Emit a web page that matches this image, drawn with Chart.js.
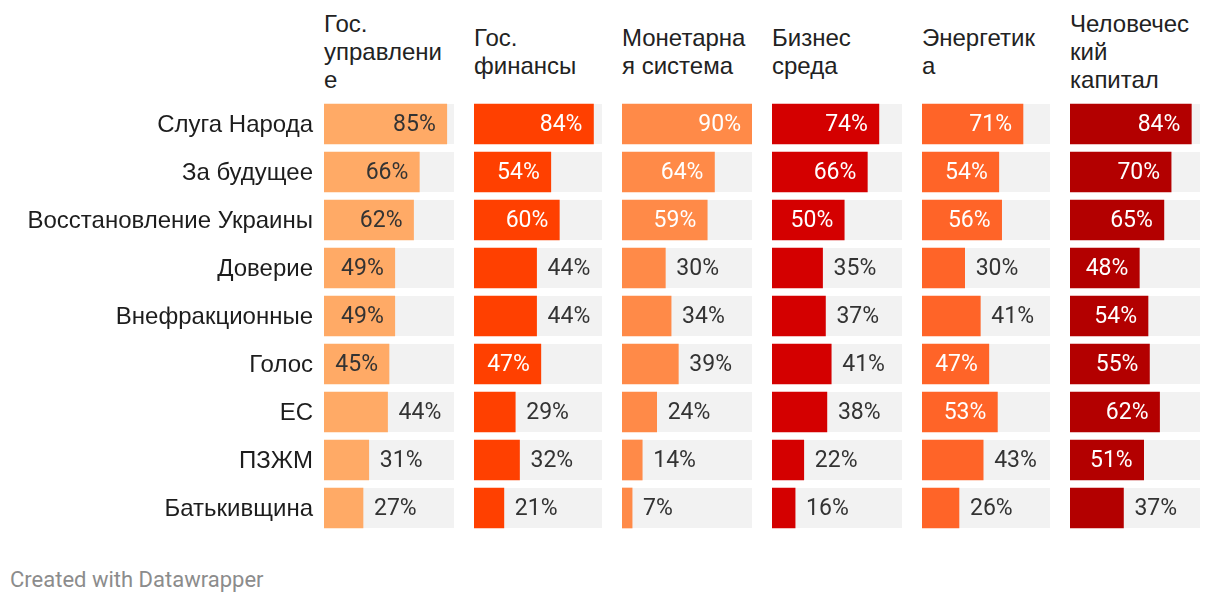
<!DOCTYPE html>
<html>
<head>
<meta charset="utf-8">
<script src="https://cdn.jsdelivr.net/npm/chart.js@4.4.1/dist/chart.umd.min.js"></script>
<style>
  html, body { margin: 0; padding: 0; background: #fff; }
  #wrap { position: relative; width: 1220px; height: 604px; overflow: hidden; }
  .panel { position: absolute; top: 100px; height: 432px; }
  .head {
    position: absolute; top: 0; height: 104px;
    display: flex; align-items: center;
    font-family: "Liberation Sans", Arial, sans-serif; font-size: 24px; line-height: 28px;
    color: #222;
  }
  #foot {
    position: absolute; left: 10px; top: 567px;
    font-family: Roboto, sans-serif; font-size: 22px; color: #8c8c8c;
  }
</style>
</head>
<body>
<div id="wrap">
  <div id="foot">Created with Datawrapper</div>
</div>
<script>
// parties (rows)
const parties = ["Слуга Народа", "За будущее", "Восстановление Украины", "Доверие", "Внефракционные", "Голос", "ЕС", "ПЗЖМ", "Батькивщина"];

// column headers, wrapped like the original
const headers = [
  ["Гос.", "управлени", "е"],
  ["Гос.", "финансы"],
  ["Монетарна", "я система"],
  ["Бизнес", "среда"],
  ["Энергетик", "а"],
  ["Человечес", "кий", "капитал"]
];

// values per column, in % (same order as parties)
const govAdmin   = [85, 66, 62, 49, 49, 45, 44, 31, 27];
const govFinance = [84, 54, 60, 44, 44, 47, 29, 32, 21];
const monetary   = [90, 64, 59, 30, 34, 39, 24, 14, 7];
const business   = [74, 66, 50, 35, 37, 41, 38, 22, 16];
const energy     = [71, 54, 56, 30, 41, 47, 53, 43, 26];
const humanCap   = [84, 70, 65, 48, 54, 55, 62, 51, 37];

const series = [govAdmin, govFinance, monetary, business, energy, humanCap];
const colors = ["#FFAA66", "#FF4000", "#FF8A48", "#D40000", "#FF6428", "#B30000"];
const insideText = ["#333333", "#ffffff", "#ffffff", "#ffffff", "#ffffff", "#ffffff"];

// panel layout
const panelX = [324, 474, 622, 772, 922, 1070];
const panelW = [130, 128, 130, 130, 128, 130];
const LABEL_W = 324;
const INSIDE_MIN = 45;
const TRACK = "#F2F2F2";

const scaleMax = Math.max(...series.flat());

const trackPlugin = {
  id: "track",
  beforeDatasetsDraw(chart) {
    const { ctx, chartArea } = chart;
    const meta = chart.getDatasetMeta(0);
    ctx.save();
    ctx.fillStyle = TRACK;
    meta.data.forEach((el) => {
      ctx.fillRect(chartArea.left, el.y - el.height / 2, chartArea.right - chartArea.left, el.height);
    });
    ctx.restore();
  }
};

const valuePlugin = {
  id: "values",
  afterDatasetsDraw(chart) {
    const { ctx, chartArea } = chart;
    const meta = chart.getDatasetMeta(0);
    const ds = chart.data.datasets[0];
    const opts = chart.options.plugins.values;
    const idx = opts.panel;
    ctx.save();
    ctx.textBaseline = "middle";
    meta.data.forEach((el, i) => {
      const v = ds.data[i];
      const txt = v + "%";
      ctx.font = "23px Roboto, sans-serif";
      if (v >= INSIDE_MIN) {
        ctx.textAlign = "right";
        ctx.fillStyle = insideText[idx];
        ctx.fillText(txt, el.x - 11, el.y + 1);
      } else {
        ctx.textAlign = "left";
        ctx.fillStyle = "#333333";
        ctx.fillText(txt, el.x + 11, el.y + 1);
      }
      // row labels on the first panel only
      if (opts.rowLabels) {
        ctx.font = "24px 'Liberation Sans', Arial, sans-serif";
        ctx.textAlign = "right";
        ctx.fillStyle = "#1d1d1d";
        ctx.fillText(chart.data.labels[i], chartArea.left - 11, chart.scales.y.getPixelForValue(i) + 1);
      }
    });
    ctx.restore();
  }
};

const wrap = document.getElementById("wrap");

series.forEach((vals, p) => {
  const first = p === 0;
  const left = first ? 0 : panelX[p];
  const width = first ? panelX[p] + panelW[p] : panelW[p];

  const head = document.createElement("div");
  head.className = "head";
  head.style.left = panelX[p] + "px";
  head.style.width = (panelW[p] + 16) + "px";
  head.innerHTML = "<div>" + headers[p].join("<br>") + "</div>";
  wrap.appendChild(head);

  const box = document.createElement("div");
  box.className = "panel";
  box.style.left = left + "px";
  box.style.width = width + "px";
  const canvas = document.createElement("canvas");
  box.appendChild(canvas);
  wrap.appendChild(box);

  new Chart(canvas.getContext("2d"), {
    type: "bar",
    data: {
      labels: parties,
      datasets: [{
        data: vals,
        backgroundColor: colors[p],
        borderWidth: 0,
        barThickness: 40
      }]
    },
    options: {
      indexAxis: "y",
      responsive: true,
      maintainAspectRatio: false,
      animation: false,
      layout: { padding: { left: first ? LABEL_W : 0, right: 0, top: 0, bottom: 0 } },
      scales: {
        x: { display: false, min: 0, max: scaleMax },
        y: { display: false }
      },
      plugins: {
        legend: { display: false },
        tooltip: { enabled: false },
        values: { panel: p, rowLabels: first }
      }
    },
    plugins: [trackPlugin, valuePlugin]
  });
});
</script>
</body>
</html>
